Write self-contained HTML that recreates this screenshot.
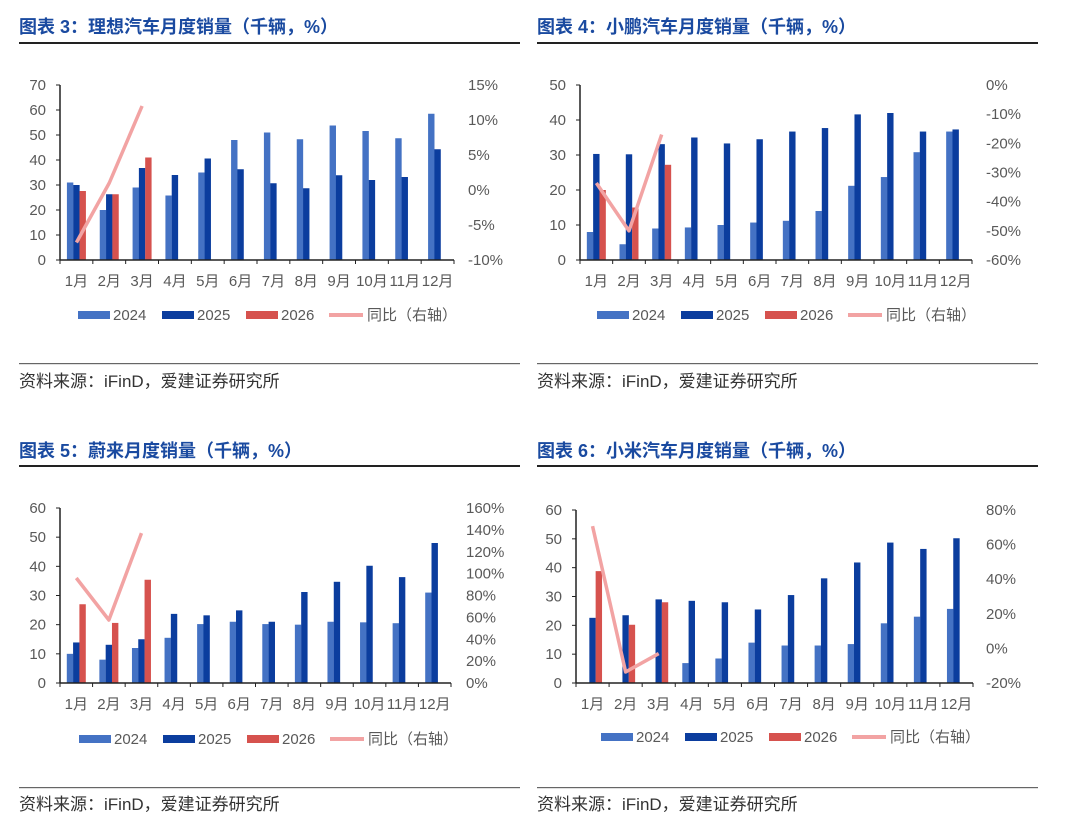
<!DOCTYPE html>
<html><head><meta charset="utf-8"><style>
body{margin:0;background:#fff;width:1068px;height:828px;overflow:hidden}
svg{display:block}
text{font-family:"Liberation Sans","Noto Sans CJK SC",sans-serif}
</style></head><body>
<svg id="s" width="1068" height="828" xmlns="http://www.w3.org/2000/svg"></svg>
<script>
const C24="#4472c4",C25="#0b3d9e",C26="#d6524e",CL="#f2a3a3",G="#595959";
const charts=[
{title:"图表 3：理想汽车月度销量（千辆，%）",ty:27,rule:[19,520,43],ax:60,top:85,bot:260,right:454,lmax:70,lstep:10,rmin:-10,rmax:15,rstep:5,rx:468,llx:46,
a:[31,20,29,25.8,35,48,51,48.3,53.8,51.6,48.7,58.5],b:[30,26.3,36.8,34,40.6,36.3,30.7,28.7,33.9,32,33.2,44.3],c:[27.6,26.3,41],l:[-7.5,1,12],ly:315,lx:78,src:[363,381]},
{title:"图表 4：小鹏汽车月度销量（千辆，%）",ty:27,rule:[537,1038,43],ax:580,top:85,bot:260,right:972,lmax:50,lstep:10,rmin:-60,rmax:0,rstep:10,rx:986,llx:566,
a:[8,4.5,9,9.3,10,10.7,11.2,14,21.2,23.7,30.8,36.7],b:[30.3,30.2,33.1,35,33.3,34.5,36.7,37.7,41.6,42,36.7,37.3],c:[20,15,27.2],l:[-33.6,-50,-17],ly:315,lx:597,src:[363,381]},
{title:"图表 5：蔚来月度销量（千辆，%）",ty:451,rule:[19,520,466],ax:60,top:508,bot:683,right:451,lmax:60,lstep:10,rmin:0,rmax:160,rstep:20,rx:466,llx:46,
a:[10,8,12,15.5,20.2,21,20.2,20,21,20.8,20.5,31],b:[13.9,13.1,15,23.7,23.2,24.9,21,31.2,34.7,40.2,36.3,48],c:[27,20.6,35.4],l:[96,57.6,137],ly:739,lx:79,src:[787,804]},
{title:"图表 6：小米汽车月度销量（千辆，%）",ty:451,rule:[537,1038,466],ax:576,top:510,bot:683,right:973,lmax:60,lstep:10,rmin:-20,rmax:80,rstep:20,rx:986,llx:562,
a:[0,0,0,6.9,8.5,14,13,13,13.5,20.7,23,25.7],b:[22.6,23.5,29,28.5,28,25.5,30.5,36.3,41.8,48.7,46.5,50.2],c:[38.8,20.2,28],l:[70.7,-13.6,-3],ly:737,lx:601,src:[787,804]}
];
let h="";
for(const k of charts){
 const bx=k.rule[0];
 h+=`<text x="${bx}" y="${k.ty+6}" font-size="18" font-weight="bold" fill="#1a4aa0">${k.title}</text>`;
 h+=`<rect x="${bx}" y="${k.rule[2]-1}" width="${k.rule[1]-bx}" height="2" fill="#222"/>`;
 h+=`<rect x="${bx}" y="${k.src[0]}" width="${k.rule[1]-bx}" height="1.2" fill="#666"/>`;
 h+=`<text x="${bx}" y="${k.src[1]+6}" font-size="17" fill="#333">资料来源：iFinD，爱建证券研究所</text>`;
 const H=k.bot-k.top,cw=(k.right-k.ax)/12;
 const yl=v=>k.bot-v/k.lmax*H, yr=v=>k.bot-(v-k.rmin)/(k.rmax-k.rmin)*H;
 for(let v=0;v<=k.lmax;v+=k.lstep){const y=yl(v);h+=`<text x="${k.llx}" y="${y+5}" font-size="15" fill="${G}" text-anchor="end">${v}</text><line x1="${k.ax-4}" x2="${k.ax}" y1="${y}" y2="${y}" stroke="#222"/>`;}
 for(let v=k.rmin;v<=k.rmax;v+=k.rstep){const y=yr(v);h+=`<text x="${k.rx}" y="${y+5}" font-size="15" fill="${G}">${v}%</text>`;}
 for(let i=0;i<12;i++){
  const c=k.ax+cw*(i+.5);
  [[k.a[i],C24,-9.5],[k.b[i],C25,-3.2],[k.c[i],C26,3.1]].forEach(([v,col,o])=>{if(v){const y=yl(v);h+=`<rect x="${c+o}" y="${y}" width="6.4" height="${k.bot-y}" fill="${col}"/>`;}});
  h+=`<text x="${c}" y="${k.bot+26}" font-size="15" fill="${G}" text-anchor="middle">${i+1}月</text>`;
 }
 for(let i=0;i<=12;i++){const x=k.ax+cw*i;h+=`<line x1="${x}" x2="${x}" y1="${k.bot}" y2="${k.bot+4}" stroke="#222"/>`;}
 h+=`<line x1="${k.ax}" x2="${k.ax}" y1="${k.top}" y2="${k.bot}" stroke="#222" stroke-width="1.5"/><line x1="${k.ax}" x2="${k.right}" y1="${k.bot}" y2="${k.bot}" stroke="#222" stroke-width="1.5"/>`;
 h+=`<polyline fill="none" stroke="${CL}" stroke-width="3.5" stroke-linejoin="round" points="${k.l.map((v,i)=>(k.ax+cw*(i+.5))+","+yr(v)).join(" ")}"/>`;
 const L=k.lx,y=k.ly;
 h+=`<rect x="${L}" y="${y-4}" width="32" height="8" fill="${C24}"/><text x="${L+35}" y="${y+5}" font-size="15" fill="${G}">2024</text>`;
 h+=`<rect x="${L+84}" y="${y-4}" width="32" height="8" fill="${C25}"/><text x="${L+119}" y="${y+5}" font-size="15" fill="${G}">2025</text>`;
 h+=`<rect x="${L+168}" y="${y-4}" width="32" height="8" fill="${C26}"/><text x="${L+203}" y="${y+5}" font-size="15" fill="${G}">2026</text>`;
 h+=`<rect x="${L+251}" y="${y-2}" width="34" height="4" fill="${CL}"/><text x="${L+289}" y="${y+5}" font-size="15" fill="${G}">同比（右轴）</text>`;
}
document.getElementById("s").innerHTML=h;
</script>
</body></html>
